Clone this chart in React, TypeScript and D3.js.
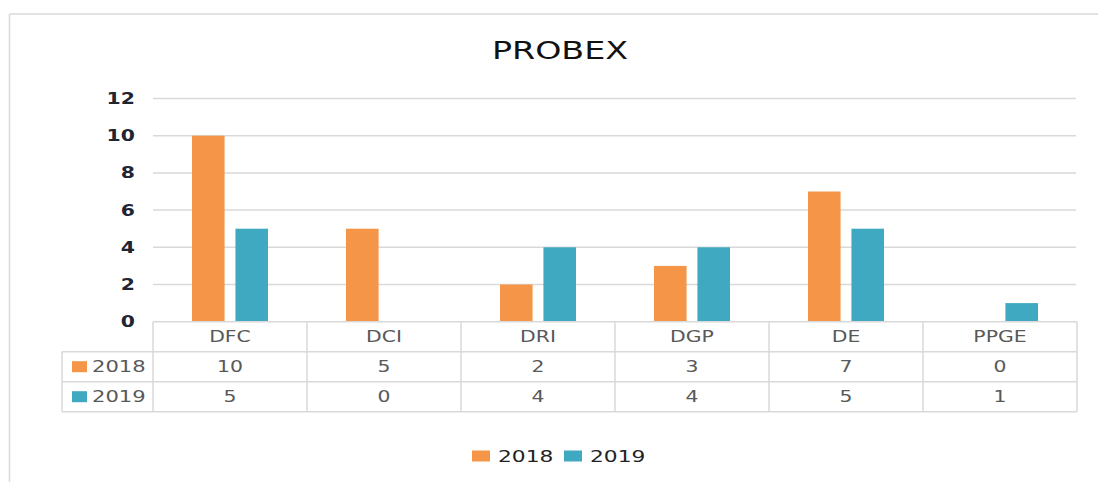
import * as d3 from 'd3';

const categories = ['DFC', 'DCI', 'DRI', 'DGP', 'DE', 'PPGE'];
const seriesNames = ['2018', '2019'];
const values2018 = [10, 5, 2, 3, 7, 0];
const values2019 = [5, 0, 4, 4, 5, 1];
const yTicks = [0, 2, 4, 6, 8, 10, 12];
const colors = ['#f59547', '#3fa9c1'];

const W = 1098;
const H = 482;
const FONT = '"DejaVu Sans", Verdana, sans-serif';
// the source image is stretched sideways, so text gets stretched too
const SX = 1.36;

const plot = { left: 153, right: 1077, top: 98.5, bottom: 321.7 };
const rowH = 30;
const legendColLeft = 62;
const gridColor = '#d9d9d9';

const STxt = ({ x, y, anchor = 'middle', size = 15, weight = 'normal', fill = '#595959', children }) => (
  <text
    transform={`translate(${x},${y}) scale(${SX},1)`}
    textAnchor={anchor}
    dy="0.36em"
    fontSize={size}
    fontWeight={weight}
    fill={fill}
    fontFamily={FONT}
  >
    {children}
  </text>
);

export default function App() {
  const series = [values2018, values2019];

  const x0 = d3.scaleBand().domain(categories).range([plot.left, plot.right]).padding(0);
  const x1 = d3
    .scaleBand()
    .domain(seriesNames)
    .range([39, x0.bandwidth() - 39])
    .paddingInner(0.25);
  const y = d3.scaleLinear().domain([0, 12]).range([plot.bottom, plot.top]);

  const tableTop = plot.bottom;
  const tableBottom = tableTop + rowH * 3;

  return (
    <svg
      width={W}
      height={H}
      style={{ position: 'absolute', left: 0, top: 0, background: '#fff' }}
    >
      {/* outer chart frame */}
      <line x1={9.5} x2={9.5} y1={14} y2={H} stroke={gridColor} strokeWidth={1.5} />
      <line x1={9.5} x2={W} y1={14} y2={14} stroke={gridColor} strokeWidth={1.5} />

      <STxt x={560} y={50.5} size={24.5} fill="#111">
        PROBEX
      </STxt>

      {/* gridlines + y labels */}
      {yTicks.map((t) => (
        <g key={t}>
          {t > 0 && (
            <line x1={plot.left} x2={plot.right - 1} y1={y(t)} y2={y(t)} stroke={gridColor} strokeWidth={1.5} />
          )}
          <STxt x={135} y={y(t)} anchor="end" size={15} weight="bold" fill="#1f2533">
            {t}
          </STxt>
        </g>
      ))}

      {/* bars */}
      {categories.map((c, i) => (
        <g key={c} transform={`translate(${x0(c)},0)`}>
          {seriesNames.map((s, j) => (
            <rect
              key={s}
              x={x1(s)}
              y={y(series[j][i])}
              width={x1.bandwidth()}
              height={y(0) - y(series[j][i])}
              fill={colors[j]}
            />
          ))}
        </g>
      ))}

      {/* data table */}
      <g stroke={gridColor} strokeWidth={1.5} fill="none">
        <line x1={plot.left} x2={plot.right} y1={tableTop} y2={tableTop} />
        <line x1={legendColLeft} x2={plot.right} y1={tableTop + rowH} y2={tableTop + rowH} />
        <line x1={legendColLeft} x2={plot.right} y1={tableTop + rowH * 2} y2={tableTop + rowH * 2} />
        <line x1={legendColLeft} x2={plot.right} y1={tableBottom} y2={tableBottom} />
        <line x1={legendColLeft} x2={legendColLeft} y1={tableTop + rowH} y2={tableBottom} />
        {categories.map((c) => (
          <line key={c} x1={x0(c)} x2={x0(c)} y1={tableTop} y2={tableBottom} />
        ))}
        <line x1={plot.right} x2={plot.right} y1={tableTop} y2={tableBottom} />
      </g>
      {categories.map((c, i) => (
        <g key={c}>
          <STxt x={x0(c) + x0.bandwidth() / 2} y={tableTop + rowH / 2} size={15}>
            {c}
          </STxt>
          {seriesNames.map((s, j) => (
            <STxt key={s} x={x0(c) + x0.bandwidth() / 2} y={tableTop + rowH * (j + 1.5)} size={15}>
              {series[j][i]}
            </STxt>
          ))}
        </g>
      ))}
      {seriesNames.map((s, j) => (
        <g key={s}>
          <rect x={72} y={tableTop + rowH * (j + 1.5) - 5.5} width={15} height={11} fill={colors[j]} />
          <STxt x={92} y={tableTop + rowH * (j + 1.5)} anchor="start" size={15.5}>
            {s}
          </STxt>
        </g>
      ))}

      {/* legend */}
      {seriesNames.map((s, j) => (
        <g key={s} transform={`translate(${472 + j * 92},456)`}>
          <rect x={0} y={-5.5} width={18} height={11} fill={colors[j]} />
          <STxt x={26} y={0} anchor="start" size={16} fill="#222">
            {s}
          </STxt>
        </g>
      ))}
    </svg>
  );
}
